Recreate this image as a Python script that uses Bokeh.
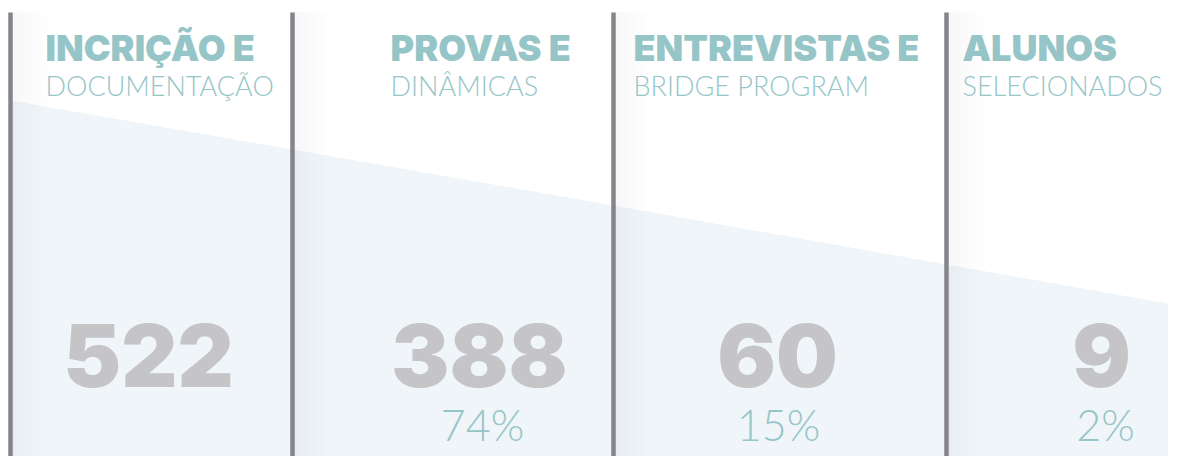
from bokeh.plotting import figure
from bokeh.models import Range1d, ColumnDataSource
from bokeh.core.properties import value
from bokeh.embed import file_html
from bokeh.resources import INLINE

# ---- data ----
stage_titles = ["INCRIÇÃO E", "PROVAS E", "ENTREVISTAS E", "ALUNOS"]
stage_subtitles = ["DOCUMENTAÇÃO", "DINÂMICAS", "BRIDGE PROGRAM", "SELECIONADOS"]
stage_counts = [522, 388, 60, 9]
stage_pcts = ["", "74%", "15%", "2%"]

# ---- layout (pixel positions) ----
divider_x = [10, 292, 613, 946]
title_x = [45, 390, 633, 962]
number_x = [148, 479, 777, 1101]
pct_x = [148, 482, 778, 1105]
shade_top_x = [10, 292, 613, 946, 1168]
shade_top_y = [100, 149, 205, 264, 303]

TEAL = "#96c5c8"
GRAY_NUM = "#c5c5c7"
LINE = "#85848b"
SHADE = "#eff5f8"

W, H = 1168, 456
p = figure(width=W, height=H, x_range=Range1d(0, W), y_range=Range1d(H, 0),
           output_backend="svg", toolbar_location=None, min_border=0,
           x_axis_type=None, y_axis_type=None)
p.grid.visible = False
p.outline_line_color = None
p.background_fill_color = "white"
p.border_fill_color = "white"

# funnel shade
px = shade_top_x + [W, 10]
py = shade_top_y + [H, H]
p.patch(px, py, fill_color=SHADE, line_color=None)

# soft shadows right of dividers
sl, sr, sa = [], [], []
for x in divider_x:
    for k in range(12):
        sl.append(x + 2 + k * 3)
        sr.append(x + 2 + (k + 1) * 3)
        sa.append(0.03 * (1 - k / 12))
p.quad(left=sl, right=sr, top=12, bottom=H, fill_color="black", fill_alpha=sa, line_color=None)

# dividers
p.segment(x0=divider_x, y0=12, x1=divider_x, y1=H, line_width=4.5, line_color=LINE)

src = ColumnDataSource(dict(tx=title_x, nx=number_x, px=pct_x, title=stage_titles,
                            sub=stage_subtitles, num=[str(c) for c in stage_counts], pct=stage_pcts))

def base(b, size, f=0.39):
    return b - f * size

p.text(x="tx", y=base(62, 38), text="title", source=src, text_font=value("Inter Black"),
       text_font_size="36px", text_color=TEAL, text_baseline="alphabetic", text_align="left")
p.text(x="tx", y=base(96, 27), text="sub", source=src, text_font=value("Lato Light"),
       text_font_size="27px", text_color=TEAL, text_baseline="alphabetic", text_align="left")
p.text(x="nx", y=base(389, 87), text="num", source=src, text_font=value("Inter Black"),
       text_font_size="87px", text_color=GRAY_NUM, text_baseline="alphabetic", text_align="center")
p.text(x="px", y=base(441, 43), text="pct", source=src, text_font=value("Lato Light"),
       text_font_size="43px", text_color=TEAL, text_baseline="alphabetic", text_align="center")

open("out.html", "w").write(file_html(p, INLINE))
